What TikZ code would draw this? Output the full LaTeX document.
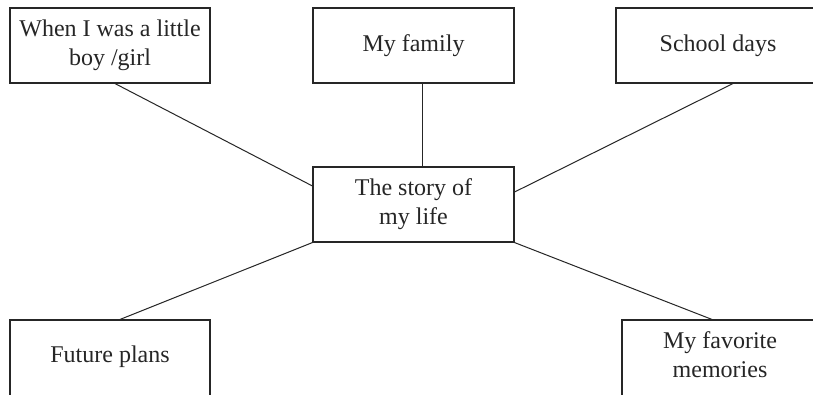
\documentclass[tikz,border=0pt]{standalone}
\usepackage{fontspec}
\setmainfont{Liberation Serif}
\begin{document}
\begin{tikzpicture}[x=1pt,y=-1pt,
  box/.style={draw=black!85, line width=1.1pt, align=center, inner sep=0pt,
    font=\fontsize{24}{29}\selectfont, text=black!85},
  conn/.style={draw=black!85, line width=1pt}]
\fill[white] (0,0) rectangle (813,394);
\useasboundingbox (0,0) rectangle (813,394);
\clip (0,0) rectangle (813,394);
\node[box, minimum width=200pt, minimum height=75pt] (tl) at (110,45.5) {When I was a little\\boy /girl};
\node[box, minimum width=201pt, minimum height=75pt] (fam) at (413.5,45.5) {My family};
\node[box, minimum width=204pt, minimum height=75pt] (tr) at (718,45.5) {School days};
\node[box, minimum width=201pt, minimum height=75pt] (c) at (413.5,204.5) {The story of\\my life};
\node[box, minimum width=200pt, minimum height=94pt, text height=16.5pt, text depth=25.5pt] (bl) at (110,367) {Future plans};
\node[box, minimum width=196pt, minimum height=94pt, text height=46pt, text depth=25.5pt] (br) at (720,367) {My favorite\\memories};
\draw[conn] ([xshift=5pt]tl.south) -- ([yshift=18.5pt]c.west);
\draw[conn] ([xshift=8.5pt]fam.south) -- ([xshift=8.5pt]c.north);
\draw[conn] ([xshift=15pt]tr.south) -- ([yshift=12.5pt]c.east);
\draw[conn] ([xshift=10pt]bl.north) -- (c.south west);
\draw[conn] ([xshift=-8pt]br.north) -- (c.south east);
\end{tikzpicture}
\end{document}
